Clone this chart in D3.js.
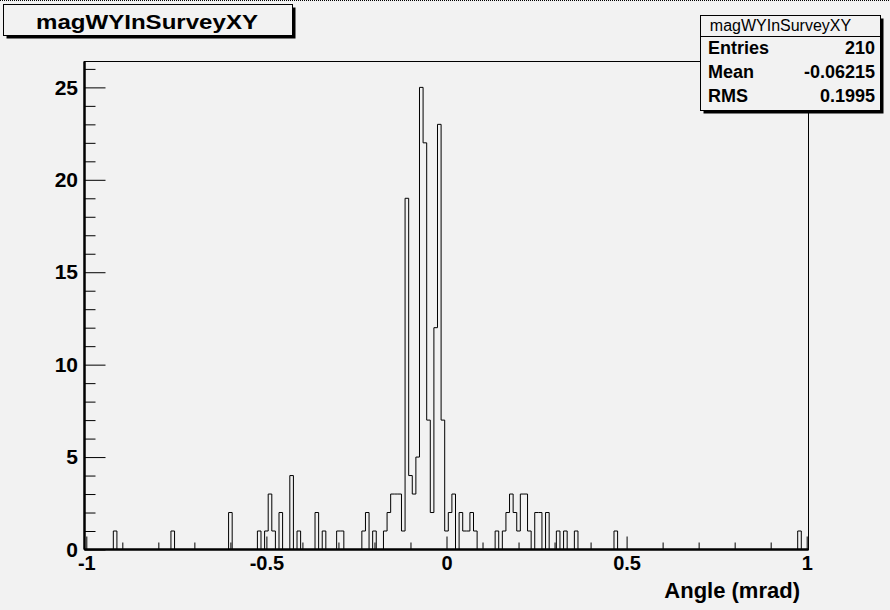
<!DOCTYPE html>
<html>
<head>
<meta charset="utf-8">
<script src="https://cdn.jsdelivr.net/npm/d3@7"></script>
<style>
  html, body { margin: 0; padding: 0; background: #f2f2f2; }
  svg { display: block; }
  text { font-family: "Liberation Sans", Arial, Helvetica, sans-serif; }
</style>
</head>
<body>
<svg id="c" width="890" height="610"></svg>
<script>
// ---- data ----
const histTitle = "magWYInSurveyXY";
const xTitle = "Angle (mrad)";
const binWidth = 0.01;
const xRange = [-1.005, 1.005];   // 201 bins centred on multiples of 0.01
// centres of non-empty bins and their contents
const binCenters = [-0.92, -0.76, -0.60, -0.52, -0.50, -0.49, -0.48, -0.46, -0.43, -0.41,
  -0.36, -0.34, -0.30, -0.29, -0.23, -0.22, -0.20, -0.17, -0.16, -0.15,
  -0.14, -0.13, -0.12, -0.11, -0.10, -0.09, -0.08, -0.07, -0.06, -0.05,
  -0.04, -0.03, -0.02, -0.01, 0.00, 0.01, 0.02, 0.04, 0.05, 0.06,
  0.07, 0.08, 0.14, 0.16, 0.17, 0.18, 0.19, 0.20, 0.21, 0.22,
  0.23, 0.25, 0.26, 0.28, 0.31, 0.33, 0.36, 0.47, 0.98];
const binCounts = [1, 1, 2, 1, 1, 3, 1, 2, 4, 1,
  2, 1, 1, 1, 1, 2, 1, 1, 2, 3,
  3, 3, 1, 19, 4, 3, 5, 25, 22, 7,
  2, 12, 23, 7, 1, 2, 3, 2, 1, 1,
  2, 1, 1, 1, 2, 3, 2, 1, 3, 3,
  1, 2, 2, 2, 1, 1, 1, 1, 1];
const xMajorTicks = [-1, -0.5, 0, 0.5, 1];
const xTickLabels = ["-1", "-0.5", "0", "0.5", "1"];
const xMinorTicks = [-0.9, -0.8, -0.7, -0.6, -0.4, -0.3, -0.2, -0.1, 0.1, 0.2, 0.3, 0.4, 0.6, 0.7, 0.8, 0.9];
const yMajorTicks = [0, 5, 10, 15, 20, 25];
const yMinorTicks = [1,2,3,4,6,7,8,9,11,12,13,14,16,17,18,19,21,22,23,24,26];
const yMax = 26.4;
const statNames = ["Entries", "Mean", "RMS"];
const statValues = ["210", "-0.06215", "0.1995"];

// ---- build histogram ----
const nBins = Math.round((xRange[1] - xRange[0]) / binWidth);
const contents = new Array(nBins).fill(0);
binCenters.forEach((c, i) => {
  const k = Math.round((c - xRange[0]) / binWidth - 0.5);
  contents[k] = binCounts[i];
});

const svg = d3.select("#c");
const frame = { left: 84.5, right: 808.5, top: 61.5, bottom: 549.5 };
const x = d3.scaleLinear().domain(xRange).range([frame.left, frame.right]);
const y = d3.scaleLinear().domain([0, yMax]).range([frame.bottom, frame.top]);

// dotted pad border on top
svg.append("line").attr("x1", 0).attr("x2", 890).attr("y1", 0.5).attr("y2", 0.5)
  .attr("stroke", "#000").attr("stroke-dasharray", "1,1");

// frame
svg.append("rect").attr("x", frame.left).attr("y", frame.top)
  .attr("width", frame.right - frame.left).attr("height", frame.bottom - frame.top)
  .attr("fill", "none").attr("stroke", "#000").attr("stroke-width", 1);

// histogram outline
const pts = contents.map((v, k) => [xRange[0] + k * binWidth, v]);
pts.push([xRange[1], contents[nBins - 1]]);
const line = d3.line().x(d => x(d[0])).y(d => y(d[1])).curve(d3.curveStepAfter);
const full = [[xRange[0], 0]].concat(pts).concat([[xRange[1], 0]]);
svg.append("path").attr("d", line(full)).attr("fill", "none")
  .attr("stroke", "#000").attr("stroke-width", 1);

// x axis
const gx = svg.append("g").attr("transform", `translate(0,${frame.bottom})`);
gx.call(d3.axisBottom(x).tickValues(xMajorTicks).tickSize(-13).tickPadding(6)
  .tickFormat((d, i) => xTickLabels[i]));
const gxm = svg.append("g").attr("transform", `translate(0,${frame.bottom})`);
gxm.call(d3.axisBottom(x).tickValues(xMinorTicks).tickSize(-7).tickFormat(""));
[gx, gxm].forEach(g => {
  g.select(".domain").attr("stroke", "#000").attr("stroke-width", 2)
    .attr("d", `M${frame.left},0H${frame.right}`);
  g.selectAll(".tick line").attr("stroke", "#000");
});
gx.selectAll(".tick text").attr("font-size", 20).attr("font-weight", "bold").attr("fill", "#000");

// y axis
const gy = svg.append("g").attr("transform", `translate(${frame.left},0)`);
gy.call(d3.axisLeft(y).tickValues(yMajorTicks).tickSize(-21).tickPadding(6.5).tickFormat(d3.format("d")));
const gym = svg.append("g").attr("transform", `translate(${frame.left},0)`);
gym.call(d3.axisLeft(y).tickValues(yMinorTicks).tickSize(-11).tickFormat(""));
[gy, gym].forEach(g => {
  g.select(".domain").attr("stroke", "#000").attr("stroke-width", 2)
    .attr("d", `M0,${frame.bottom}V${frame.top}`);
  g.selectAll(".tick line").attr("stroke", "#000");
});
gy.selectAll(".tick text").attr("font-size", 21).attr("font-weight", "bold").attr("fill", "#000");

// x title
svg.append("text").attr("x", 800).attr("y", 598).attr("text-anchor", "end")
  .attr("font-size", 22).attr("font-weight", "bold").text(xTitle);

// title box
svg.append("rect").attr("x", 6.5).attr("y", 7.5).attr("width", 289).attr("height", 31).attr("fill", "#000");
svg.append("rect").attr("x", 3.5).attr("y", 4.5).attr("width", 289).attr("height", 31)
  .attr("fill", "#f2f2f2").attr("stroke", "#000");
svg.append("text").attr("x", 147).attr("y", 29).attr("text-anchor", "middle")
  .attr("font-size", 20).attr("font-weight", "bold")
  .attr("textLength", 222).attr("lengthAdjust", "spacingAndGlyphs").text(histTitle);

// stats box
const sb = { x: 700.5, y: 15.5, w: 180, h: 95 };
svg.append("rect").attr("x", sb.x + 3).attr("y", sb.y + 3).attr("width", sb.w).attr("height", sb.h).attr("fill", "#000");
svg.append("rect").attr("x", sb.x).attr("y", sb.y).attr("width", sb.w).attr("height", sb.h)
  .attr("fill", "#f2f2f2").attr("stroke", "#000");
svg.append("line").attr("x1", sb.x).attr("x2", sb.x + sb.w).attr("y1", 36.5).attr("y2", 36.5).attr("stroke", "#000");
svg.append("text").attr("x", 780.5).attr("y", 31).attr("text-anchor", "middle")
  .attr("font-size", 16).text(histTitle);
const rowY = [54, 78, 102];
statNames.forEach((n, i) => {
  svg.append("text").attr("x", 708).attr("y", rowY[i]).attr("font-size", 18)
    .attr("font-weight", "bold").text(n);
  svg.append("text").attr("x", 875).attr("y", rowY[i]).attr("text-anchor", "end")
    .attr("font-size", 18).attr("font-weight", "bold").text(statValues[i]);
});
</script>
</body>
</html>
